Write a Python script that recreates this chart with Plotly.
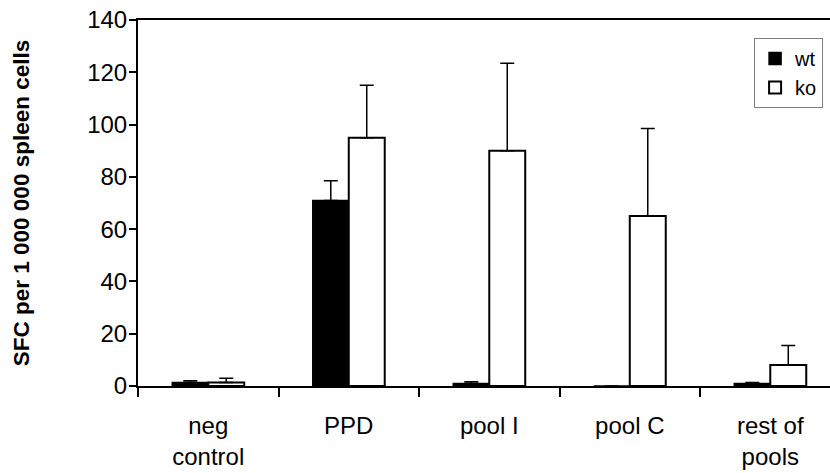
import plotly.graph_objects as go

categories = ["neg<br>control", "PPD", "pool I", "pool C", "rest of<br>pools"]
wt_values = [1.3, 71, 1.0, 0, 1.0]
wt_errors = [0.7, 7.5, 0.6, 0, 0.3]
ko_values = [1.3, 95, 90, 65, 8]
ko_errors = [1.7, 20, 33.5, 33.5, 7.5]

font_family = "Liberation Sans, Arial, sans-serif"

fig = go.Figure()
fig.add_trace(go.Bar(
    name="wt", x=categories, y=wt_values,
    marker=dict(color="black", line=dict(color="black", width=1.5)),
    error_y=dict(type="data", symmetric=False, array=wt_errors,
                 arrayminus=[0] * len(wt_errors), color="black",
                 thickness=1.5, width=7),
))
fig.add_trace(go.Bar(
    name="ko", x=categories, y=ko_values,
    marker=dict(color="white", line=dict(color="black", width=2)),
    error_y=dict(type="data", symmetric=False, array=ko_errors,
                 arrayminus=[0] * len(ko_errors), color="black",
                 thickness=1.5, width=7),
))

fig.update_layout(
    width=830, height=473,
    margin=dict(l=138, r=0, t=20, b=87, autoexpand=False),
    paper_bgcolor="white", plot_bgcolor="white",
    barmode="group", bargap=0.488, bargroupgap=0,
    font=dict(family=font_family, size=24, color="black"),
    showlegend=True,
    legend=dict(x=0.99, y=0.951, xanchor="right", yanchor="top",
                bordercolor="#808080", borderwidth=1, bgcolor="white",
                font=dict(size=20), itemwidth=30, tracegroupgap=0),
    xaxis=dict(type="category", range=[-0.5, 4.425],
               showline=True, linecolor="black", linewidth=2, mirror=True,
               ticks="outside", tickson="boundaries", ticklen=9,
               tickwidth=1.5, tickcolor="black", showgrid=False,
               tickfont=dict(size=24), ticklabelstandoff=17,
               ticklabeloverflow="allow"),
    yaxis=dict(range=[0, 140], dtick=20, showline=True, linecolor="black",
               linewidth=2, ticks="outside", ticklen=7, tickwidth=1.5,
               tickcolor="black", showgrid=False, zeroline=False,
               tickfont=dict(size=24), ticklabelstandoff=-3,
               ticklabeloverflow="allow",
               title=dict(text="<b>SFC per 1 000 000 spleen cells</b>",
                          font=dict(size=22.5), standoff=51)),
)

fig.write_html(
    "out.html",
    config={"displayModeBar": False},
    post_script="document.body.style.margin='0';document.body.style.overflow='hidden';",
)
